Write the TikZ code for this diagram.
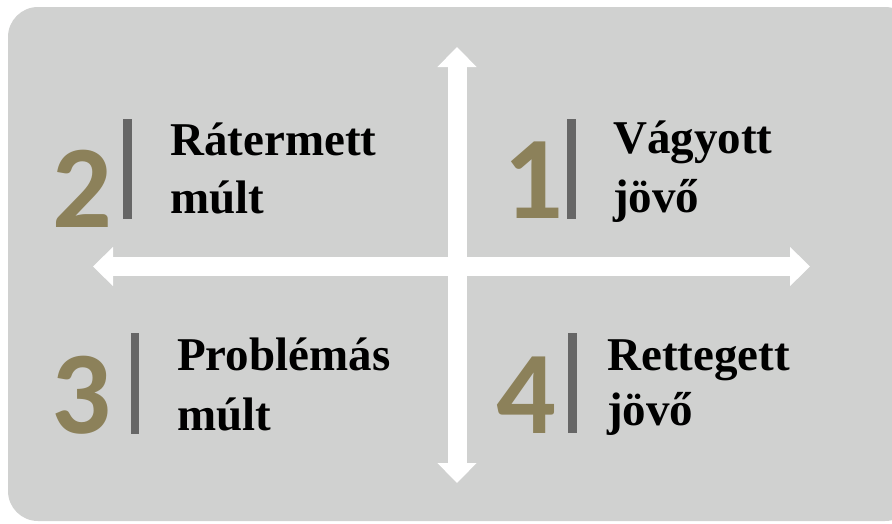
\documentclass[tikz,border=0pt]{standalone}
\usepackage{fontspec}
\setmainfont{Liberation Serif}
\newfontfamily\digitfont{Carlito}
\usetikzlibrary{arrows.meta}

\definecolor{panelgray}{RGB}{208,209,208}
\definecolor{numolive}{RGB}{140,129,90}
\definecolor{bargray}{RGB}{102,102,102}

\tikzset{
  axisarrow/.style={white, line width=19pt,
    {Triangle[width=38pt,length=20pt]}-{Triangle[width=38pt,length=20pt]}},
  numlabel/.style={anchor=base, inner sep=0pt, text=numolive,
    font=\digitfont\bfseries\fontsize{118}{118}\selectfont},
  wordlabel/.style={anchor=base west, inner sep=0pt,
    font=\bfseries\fontsize{47}{56}\selectfont},
  sepbar/.style={fill=bargray}
}

\begin{document}
\begin{tikzpicture}[x=1pt, y=-1pt]

    \useasboundingbox (0, 0) rectangle (892, 523);
    \clip (0, 0) rectangle (892, 523);

    \fill[panelgray, rounded corners=30pt] (8, 7) rectangle (915, 521);

    \coordinate (AT) at (457, 47);
    \coordinate (AB) at (457, 483);
    \coordinate (AL) at (93, 266.5);
    \coordinate (AR) at (810, 266.5);

    \draw[axisarrow] (AL) -- (AR);
    \draw[axisarrow] (AB) -- (AT);

    \fill[sepbar] (123, 119) rectangle (132, 219);
    \fill[sepbar] (567, 119) rectangle (576, 219);
    \fill[sepbar] (131, 333) rectangle (139, 434);
    \fill[sepbar] (568, 333) rectangle (577, 433);

    \node[numlabel] (N1) at (533, 218) {1};
    \node[numlabel] (N2) at (82, 227) {2};
    \node[numlabel] (N3) at (81, 433) {3};
    \node[numlabel] (N4) at (526, 433) {4};

    \node[wordlabel] (W1A) at (613, 153) {Vágyott};
    \node[wordlabel] (W1B) at (613, 212) {jövő};

    \node[wordlabel] (W2A) at (170, 155) {Rátermett};
    \node[wordlabel] (W2B) at (170, 213) {múlt};

    \node[wordlabel] (W3A) at (177, 370) {Problémás};
    \node[wordlabel] (W3B) at (177, 430) {múlt};

    \node[wordlabel] (W4A) at (607, 370) {Rettegett};
    \node[wordlabel] (W4B) at (607, 425) {jövő};

  \end{tikzpicture}
\end{document}
